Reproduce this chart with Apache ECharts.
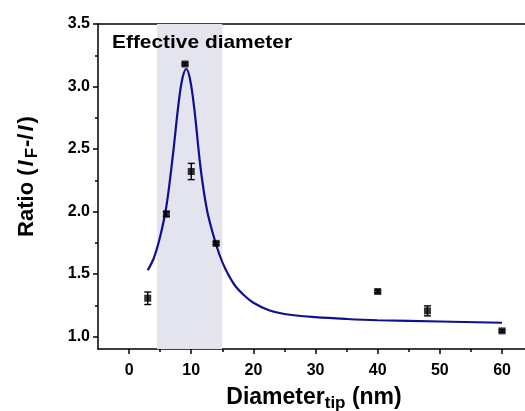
<!DOCTYPE html>
<html>
<head>
<meta charset="utf-8">
<script src="https://cdn.jsdelivr.net/npm/echarts@6/dist/echarts.min.js"></script>
<style>html,body{margin:0;padding:0;background:#fff}#c{width:525px;height:411px}</style>
</head>
<body>
<div id="c"></div>
<script>
// Measured points
const pointX = [3, 6, 9, 10, 14, 40, 48, 60];
const pointY = [1.306, 1.98, 3.18, 2.32, 1.745, 1.36, 1.205, 1.045];
const pointErr = [0.05, 0.02, 0.01, 0.065, 0.01, 0.01, 0.04, 0.01];
// Fitted curve
const curveX = [3, 4, 5, 6, 7, 8, 8.6, 9.2, 9.8, 10.5, 11.5, 12.5, 13.5, 14.5, 15.5, 17, 18.5, 20, 22.5, 25, 30, 35, 40, 50, 60];
const curveY = [1.53, 1.63, 1.80, 2.04, 2.43, 2.88, 3.07, 3.14, 3.06, 2.82, 2.35, 2.02, 1.82, 1.66, 1.54, 1.41, 1.33, 1.27, 1.21, 1.18, 1.155, 1.14, 1.13, 1.12, 1.11];
// Band and ticks
const bandRange = [4.5, 15];
const xTickLabels = [0, 10, 20, 30, 40, 50, 60];
const xMinorTicks = [5, 15, 25, 35, 45, 55];
const yTickLabels = [1.0, 1.5, 2.0, 2.5, 3.0, 3.5];
const yMinorTicks = [1.25, 1.75, 2.25, 2.75, 3.25];

const FONT = '"Liberation Sans", Arial, sans-serif';
const chart = echarts.init(document.getElementById('c'));

const baseX = {
  type: 'value', min: -5, max: 64.5, position: 'bottom',
  splitLine: {show: false},
  axisLine: {show: true, onZero: false, lineStyle: {color: '#000', width: 1.5}}
};
const baseY = {
  type: 'value', min: 0.9, max: 3.5, position: 'left',
  splitLine: {show: false},
  axisLine: {show: true, onZero: false, lineStyle: {color: '#000', width: 1.5}}
};

chart.setOption({
  animation: false,
  grid: {left: 98, top: 24, right: -5, bottom: 62, outerBoundsMode: 'none', containLabel: false, show: false},
  xAxis: [
    Object.assign({}, baseX, {
      name: '{n|Diameter}{s|tip}{n| (nm)}',
      nameLocation: 'middle', nameGap: 34,
      nameTextStyle: {rich: {
        n: {fontFamily: FONT, fontWeight: 'bold', fontSize: 23, color: '#000'},
        s: {fontFamily: FONT, fontWeight: 'bold', fontSize: 17, color: '#000', padding: [12, 0, 0, 0]}
      }},
      axisTick: {show: true, inside: false, length: 5, lineStyle: {width: 1.5, color: '#000'}, customValues: xTickLabels},
      axisLabel: {show: true, margin: 14, fontFamily: FONT, fontWeight: 'bold', fontSize: 16, color: '#000', customValues: xTickLabels}
    }),
    Object.assign({}, baseX, {
      axisLine: {show: false, onZero: false},
      axisTick: {show: true, inside: false, length: 3, lineStyle: {width: 1.5, color: '#000'}, customValues: xMinorTicks},
      axisLabel: {show: false}
    }),
    Object.assign({}, baseX, {
      position: 'top',
      axisTick: {show: false},
      axisLabel: {show: false}
    })
  ],
  yAxis: [
    Object.assign({}, baseY, {
      name: '{n|Ratio (}{i|I}{s|F}{n|-/}{i|I}{n|)}',
      nameLocation: 'middle', nameGap: 57, nameRotate: 90,
      nameTextStyle: {padding: [0, 0, 0, 20], rich: {
        n: {fontFamily: FONT, fontWeight: 'bold', fontSize: 22, color: '#000'},
        i: {fontFamily: FONT, fontWeight: 'bold', fontStyle: 'italic', fontSize: 22, color: '#000', padding: [0, 2, 0, 2]},
        s: {fontFamily: FONT, fontWeight: 'bold', fontSize: 17, color: '#000', padding: [12, 1, 0, 0]}
      }},
      axisTick: {show: true, inside: false, length: 5, lineStyle: {width: 1.5, color: '#000'}, customValues: yTickLabels},
      axisLabel: {show: true, margin: 8, fontFamily: FONT, fontWeight: 'bold', fontSize: 16, color: '#000',
        customValues: yTickLabels, formatter: v => Number(v).toFixed(1)}
    }),
    Object.assign({}, baseY, {
      axisLine: {show: false, onZero: false},
      axisTick: {show: true, inside: false, length: 3, lineStyle: {width: 1.5, color: '#000'}, customValues: yMinorTicks},
      axisLabel: {show: false}
    })
  ],
  graphic: [{
    type: 'text', x: 112, y: 33, z: 100, scaleX: 1.1,
    style: {text: 'Effective diameter', font: 'bold 19px ' + FONT, fill: '#000'}
  }],
  series: [
    {
      type: 'line', data: [], xAxisIndex: 0, yAxisIndex: 0,
      markArea: {silent: true, itemStyle: {color: '#e4e4ee'}, data: [[{xAxis: bandRange[0]}, {xAxis: bandRange[1]}]]}
    },
    {
      type: 'line', smooth: 0.35, symbol: 'none',
      data: curveX.map((x, i) => [x, curveY[i]]),
      lineStyle: {color: '#10108e', width: 2.2}, z: 3
    },
    {
      type: 'custom',
      data: pointX.map((x, i) => [x, pointY[i], pointErr[i]]),
      renderItem: function (params, api) {
        const x = api.value(0), y = api.value(1), e = api.value(2);
        const top = api.coord([x, y + e]);
        const bot = api.coord([x, y - e]);
        const hw = 3.5;
        const st = {stroke: '#000', lineWidth: 1.4};
        return {type: 'group', children: [
          {type: 'line', shape: {x1: top[0], y1: top[1], x2: bot[0], y2: bot[1]}, style: st},
          {type: 'line', shape: {x1: top[0] - hw, y1: top[1], x2: top[0] + hw, y2: top[1]}, style: st},
          {type: 'line', shape: {x1: bot[0] - hw, y1: bot[1], x2: bot[0] + hw, y2: bot[1]}, style: st}
        ]};
      },
      z: 4
    },
    {
      type: 'scatter', symbol: 'rect', symbolSize: 7,
      data: pointX.map((x, i) => [x, pointY[i]]),
      itemStyle: {color: '#000'}, z: 5
    }
  ]
});
</script>
</body>
</html>
